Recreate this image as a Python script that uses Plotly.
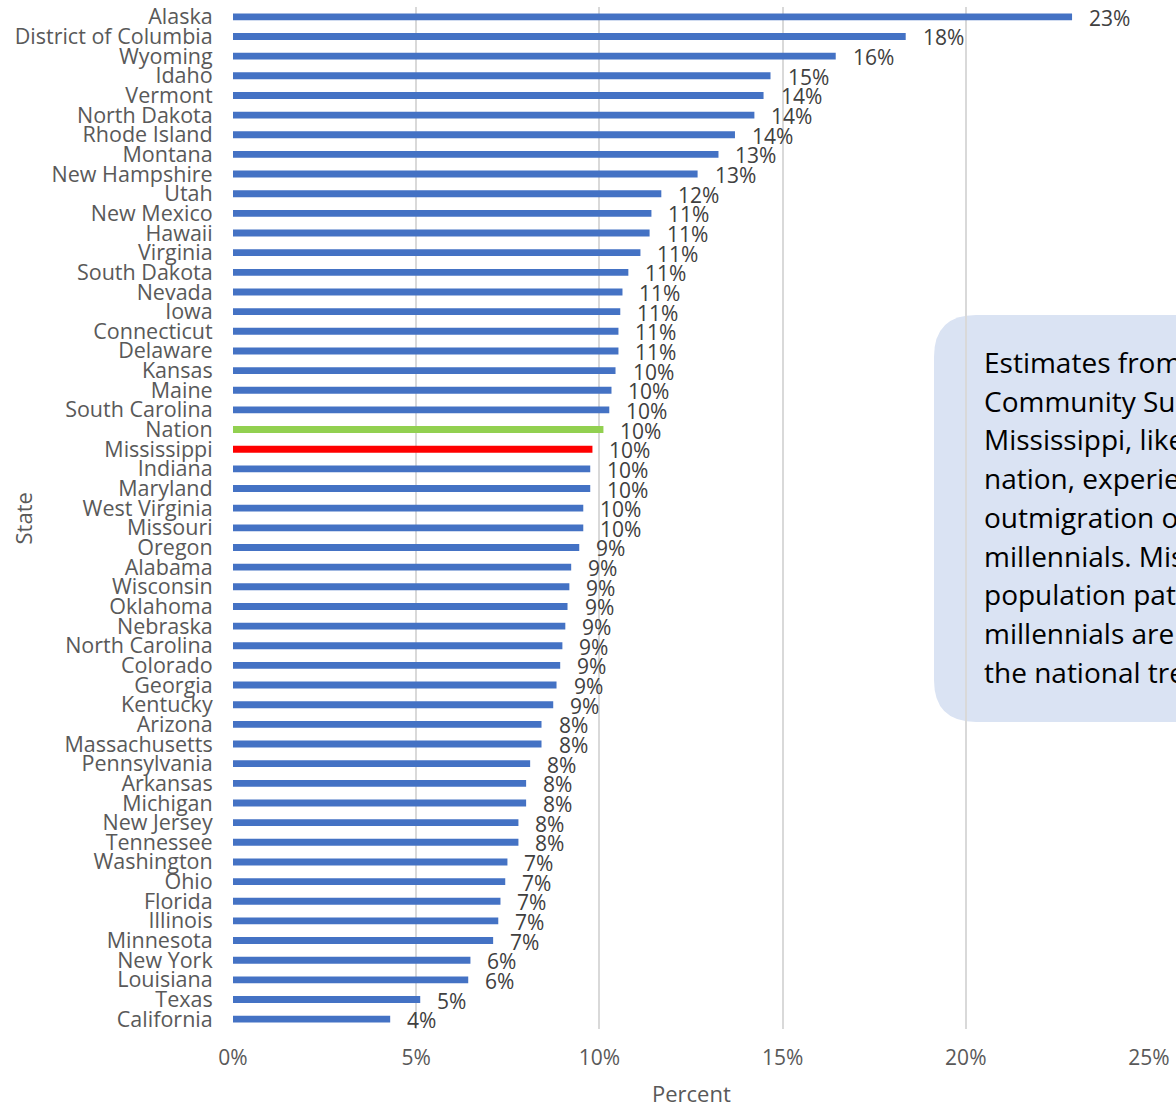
import plotly.graph_objects as go

states = ["Alaska", "District of Columbia", "Wyoming", "Idaho", "Vermont", "North Dakota",
          "Rhode Island", "Montana", "New Hampshire", "Utah", "New Mexico", "Hawaii",
          "Virginia", "South Dakota", "Nevada", "Iowa", "Connecticut", "Delaware", "Kansas",
          "Maine", "South Carolina", "Nation", "Mississippi", "Indiana", "Maryland",
          "West Virginia", "Missouri", "Oregon", "Alabama", "Wisconsin", "Oklahoma",
          "Nebraska", "North Carolina", "Colorado", "Georgia", "Kentucky", "Arizona",
          "Massachusetts", "Pennsylvania", "Arkansas", "Michigan", "New Jersey", "Tennessee",
          "Washington", "Ohio", "Florida", "Illinois", "Minnesota", "New York", "Louisiana",
          "Texas", "California"]
values = [22.9, 18.36, 16.45, 14.67, 14.48, 14.23, 13.7, 13.25, 12.68, 11.69, 11.42, 11.37,
          11.12, 10.79, 10.63, 10.57, 10.52, 10.52, 10.44, 10.33, 10.27, 10.11, 9.81, 9.75,
          9.75, 9.56, 9.56, 9.45, 9.23, 9.18, 9.13, 9.07, 8.99, 8.93, 8.83, 8.74, 8.42, 8.42,
          8.11, 8.0, 8.0, 7.79, 7.79, 7.49, 7.43, 7.3, 7.24, 7.1, 6.48, 6.42, 5.11, 4.29]
x_ticks = [0, 5, 10, 15, 20, 25]
x_tick_labels = ["0%", "5%", "10%", "15%", "20%", "25%"]
note_lines = ["Estimates from the American", "Community Survey show that",
              "Mississippi, like the", "nation, experienced net",
              "outmigration of", "millennials. Mississippi's",
              "population patterns of", "millennials are similar to",
              "the national trend."]

def bar_color(s):
    if s == "Nation":
        return "#92D050"
    if s == "Mississippi":
        return "#FF0000"
    return "#4472C4"

FONT = "Open Sans, Liberation Sans, Arial, sans-serif"

# plot area in pixels
PL, PR, PT, PB = 233, 1149, 7, 1029
PW, PH = PR - PL, PB - PT

def px_x(x):
    return (x - PL) / PW

def px_y(y):
    return (PB - y) / PH

fig = go.Figure()
fig.add_trace(go.Bar(
    y=states, x=values, orientation="h",
    marker=dict(color=[bar_color(s) for s in states], line=dict(width=0)),
    width=0.35, hoverinfo="x+y",
))

for s, v in zip(states, values):
    fig.add_annotation(x=v, y=s, xref="x", yref="y", text=f"{round(v)}%",
                       showarrow=False, xanchor="left", yanchor="middle",
                       xshift=15, yshift=-1,
                       font=dict(family=FONT, size=21, color="#404040"))

# rounded note box (paper coordinates)
L, T, B, R = px_x(934), px_y(315), px_y(722), 1.17
rx, ry = 0.046, 0.041
path = (f"M {L},{T-ry} Q {L},{T} {L+rx},{T} L {R},{T} L {R},{B} "
        f"L {L+rx},{B} Q {L},{B} {L},{B+ry} Z")
fig.add_shape(type="path", path=path, xref="paper", yref="paper",
              fillcolor="#DAE3F3", line=dict(width=0), layer="below")

for i, t in enumerate(note_lines):
    fig.add_annotation(x=px_x(982), y=px_y(362 + i * 38.7), xref="paper", yref="paper",
                       text=t, showarrow=False, xanchor="left", yanchor="middle",
                       font=dict(family=FONT, size=28, color="#000000"))

# axis titles
fig.add_annotation(x=px_x(22.5), y=px_y(519), xref="paper", yref="paper", text="State",
                   textangle=-90, showarrow=False, xanchor="center", yanchor="middle",
                   font=dict(family=FONT, size=22, color="#595959"))
fig.add_annotation(x=px_x(691), y=px_y(1093), xref="paper", yref="paper", text="Percent",
                   showarrow=False, xanchor="center", yanchor="middle",
                   font=dict(family=FONT, size=22, color="#595959"))

fig.update_layout(
    width=1176, height=1106,
    margin=dict(l=PL, r=1176 - PR, t=PT, b=1106 - PB),
    plot_bgcolor="white", paper_bgcolor="white",
    showlegend=False,
    font=dict(family=FONT, color="#595959"),
)
fig.update_xaxes(
    range=[0, 25], tickmode="array", tickvals=x_ticks, ticktext=x_tick_labels,
    showgrid=True, gridcolor="#D9D9D9", gridwidth=1.5,
    zeroline=False, showline=False, automargin=False,
    ticks="outside", ticklen=10, tickcolor="rgba(0,0,0,0)",
    tickfont=dict(size=21, color="#595959"),
)
fig.update_yaxes(
    tickmode="array", tickvals=states, ticktext=states,
    categoryorder="array", categoryarray=states,
    range=[len(states) - 0.5, -0.5], autorange=False,
    showgrid=False, zeroline=False, showline=False, automargin=False,
    ticks="outside", ticklen=15, tickcolor="rgba(0,0,0,0)",
    tickfont=dict(size=21.5, color="#595959"),
)

fig.write_html("out.html", config={"displayModeBar": False},
               post_script="document.body.style.margin='0px';")
